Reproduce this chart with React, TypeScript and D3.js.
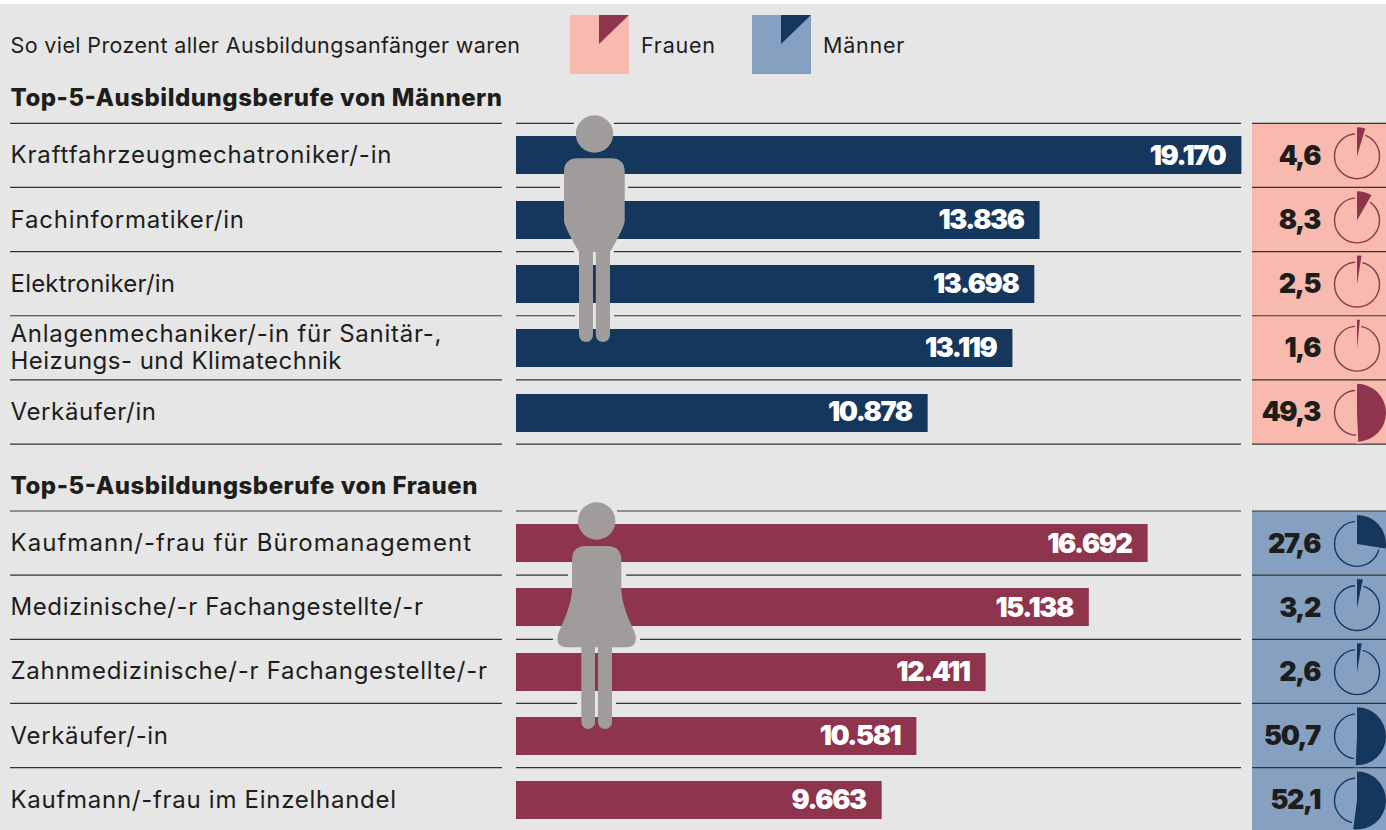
import React from "react";
import * as d3 from "d3";

const menJobs = ["Kraftfahrzeugmechatroniker/-in", "Fachinformatiker/in", "Elektroniker/in", "Anlagenmechaniker/-in für Sanitär-,|Heizungs- und Klimatechnik", "Verkäufer/in"];
const menCounts = [19170, 13836, 13698, 13119, 10878];
const menWomenShare = [4.6, 8.3, 2.5, 1.6, 49.3];
const womenJobs = ["Kaufmann/-frau für Büromanagement", "Medizinische/-r Fachangestellte/-r", "Zahnmedizinische/-r Fachangestellte/-r", "Verkäufer/-in", "Kaufmann/-frau im Einzelhandel"];
const womenCounts = [16692, 15138, 12411, 10581, 9663];
const womenMenShare = [27.6, 3.2, 2.6, 50.7, 52.1];

const FONT = "Inter, 'Open Sans', sans-serif";
const NAVY = "#15375e", MAROON = "#8e344c", SALMON = "#f8baae", BLUE = "#86a0c1", BG = "#e6e6e6", GREY = "#9f9c9b", INK = "#1d1d1b";
const LABEL_X = 10.5;
const labelWidths: Record<string, number> = {
  "Kraftfahrzeugmechatroniker/-in": 381,
  "Fachinformatiker/in": 233.5,
  "Elektroniker/in": 164.5,
  "Anlagenmechaniker/-in für Sanitär-,": 431,
  "Heizungs- und Klimatechnik": 331,
  "Verkäufer/in": 145.5,
  "Kaufmann/-frau für Büromanagement": 460.5,
  "Medizinische/-r Fachangestellte/-r": 412.5,
  "Zahnmedizinische/-r Fachangestellte/-r": 476.5,
  "Verkäufer/-in": 157.5,
  "Kaufmann/-frau im Einzelhandel": 385.5,
};

const x = d3.scaleLinear().domain([0, 19170]).range([516, 1241.4]);
const fmt = (v: number) => d3.format(",")(v).replace(",", ".");
const fmtShare = (v: number) => v.toFixed(1).replace(".", ",");
const slice = d3.arc();

function rr(p: d3.Path, x0: number, y0: number, x1: number, y1: number, r: number) {
  p.moveTo(x0 + r, y0);
  p.lineTo(x1 - r, y0);
  p.arcTo(x1, y0, x1, y0 + r, r);
  p.lineTo(x1, y1 - r);
  p.arcTo(x1, y1, x1 - r, y1, r);
  p.lineTo(x0 + r, y1);
  p.arcTo(x0, y1, x0, y1 - r, r);
  p.lineTo(x0, y0 + r);
  p.arcTo(x0, y0, x0 + r, y0, r);
  p.closePath();
}

function manPath() {
  const p = d3.path();
  p.moveTo(578, 158.3);
  p.lineTo(611, 158.3);
  p.quadraticCurveTo(624.7, 158.3, 624.7, 172);
  p.lineTo(624.7, 221);
  p.quadraticCurveTo(624, 228, 610, 252);
  p.lineTo(579, 252);
  p.quadraticCurveTo(565, 228, 564, 221);
  p.lineTo(564, 172);
  p.quadraticCurveTo(564, 158.3, 578, 158.3);
  p.closePath();
  rr(p, 579, 240, 593, 342, 7);
  rr(p, 595.8, 240, 610, 342, 7);
  return p.toString();
}

function womanPath() {
  const p = d3.path();
  p.moveTo(586, 546);
  p.lineTo(607, 546);
  p.quadraticCurveTo(621.3, 546, 621.3, 560);
  p.lineTo(621.3, 588);
  p.bezierCurveTo(621.5, 605, 630, 622, 635, 633);
  p.quadraticCurveTo(639, 647.3, 625, 647.3);
  p.lineTo(568, 647.3);
  p.quadraticCurveTo(554, 647.3, 558.5, 633);
  p.bezierCurveTo(563, 622, 572, 605, 572, 588);
  p.lineTo(572, 560);
  p.quadraticCurveTo(572, 546, 586, 546);
  p.closePath();
  rr(p, 581.3, 635, 595, 729, 7);
  rr(p, 598, 635, 612, 729, 7);
  return p.toString();
}

function Label({ t, y }: { t: string; y: number }) {
  return (
    <text x={LABEL_X} y={y} fontSize={24} textLength={labelWidths[t]} lengthAdjust="spacing" fill={INK} fontFamily={FONT}>{t}</text>
  );
}

function Group({ top, jobs, counts, shares, barColor, panel, ink, gaps, panelBottom, barTop, barStep }: any) {
  const rowH = 64.15;
  const lineYs = d3.range(6).map((i) => top + i * rowH);
  const band = d3.scaleBand<number>().domain(d3.range(5)).range([top, top + 5 * rowH]);
  return (
    <g>
      <rect x={1252} y={top} width={134} height={panelBottom - top} fill={panel} />
      {lineYs.map((y, i) => {
        if (i === 5 && panelBottom > y + 2) {
          return null;
        }
        const g = gaps[i];
        return (
          <g key={i} stroke="#333" strokeWidth={1.2}>
            <line x1={10} x2={502} y1={y} y2={y} />
            {g ? (
              <>
                <line x1={516} x2={g[0]} y1={y} y2={y} />
                <line x1={g[1]} x2={1241} y1={y} y2={y} />
              </>
            ) : (
              <line x1={516} x2={1241} y1={y} y2={y} />
            )}
            <line x1={1252} x2={1386} y1={y} y2={y} />
          </g>
        );
      })}
      {counts.map((v: number, i: number) => {
        const cy = band(i)! + band.bandwidth() / 2;
        const lines = jobs[i].split("|");
        return (
          <g key={i}>
            <rect x={x(0)} y={Math.round(barTop + i * barStep)} width={x(v) - x(0)} height={38} fill={barColor} />
            {lines.length === 1 ? (
              <Label t={lines[0]} y={cy + 8} />
            ) : (
              lines.map((t: string, k: number) => <Label key={k} t={t} y={cy - 5.5 + k * 27} />)
            )}
            <text x={x(v) - 16} y={cy + 9.5} textAnchor="end" fontSize={27} fontWeight={900} letterSpacing={-1.4} fill="#fff" fontFamily={FONT}>{fmt(v)}</text>
            <text x={1320} y={cy + 9.5} textAnchor="end" fontSize={27} fontWeight={900} letterSpacing={-1.4} fill={INK} fontFamily={FONT}>{fmtShare(shares[i])}</text>
            <g transform={`translate(1357,${cy + 0.8})`}>
              <circle r={22.5} fill="none" stroke={ink} strokeWidth={1.4} />
              <path
                d={slice({ innerRadius: 0, outerRadius: 29, startAngle: 0, endAngle: (shares[i] / 100) * 2 * Math.PI } as any) as string}
                fill={ink}
                stroke={panel}
                strokeWidth={4}
                style={{ paintOrder: "stroke" }}
              />
            </g>
          </g>
        );
      })}
    </g>
  );
}

export default function App() {
  return (
    <svg width={1386} height={830} style={{ position: "absolute", left: 0, top: 0, display: "block" }}>
      <rect width={1386} height={830} fill="#fff" />
      <rect y={4} width={1386} height={826} fill={BG} />

      <text x={10.5} y={53} fontSize={21.5} textLength={509.5} lengthAdjust="spacing" fill={INK} fontFamily={FONT}>So viel Prozent aller Ausbildungsanfänger waren</text>
      <rect x={570} y={15} width={59} height={59} fill={SALMON} />
      <path d={d3.line()([[599, 15], [629, 15], [599, 44]])! + "Z"} fill={MAROON} />
      <text x={641} y={53} fontSize={21.5} letterSpacing={0.75} fill={INK} fontFamily={FONT}>Frauen</text>
      <rect x={752} y={15} width={59} height={59} fill={BLUE} />
      <path d={d3.line()([[781, 15], [811, 15], [781, 44]])! + "Z"} fill={NAVY} />
      <text x={823} y={53} fontSize={21.5} letterSpacing={0.75} fill={INK} fontFamily={FONT}>Männer</text>

      <text x={10.5} y={106} fontSize={24} fontWeight={800} textLength={491.5} lengthAdjust="spacing" fill={INK} fontFamily={FONT}>Top-5-Ausbildungsberufe von Männern</text>
      <text x={10.5} y={494} fontSize={24} fontWeight={800} textLength={467} lengthAdjust="spacing" fill={INK} fontFamily={FONT}>Top-5-Ausbildungsberufe von Frauen</text>

      <Group
        top={123.3}
        barTop={136.3}
        barStep={64.35}
        jobs={menJobs}
        counts={menCounts}
        shares={menWomenShare}
        barColor={NAVY}
        panel={SALMON}
        ink={MAROON}
        panelBottom={444}
        gaps={[[574, 614], [560, 628], [574, 614], [575, 614], null, null]}
      />
      <Group
        top={511}
        barTop={524}
        barStep={64.3}
        jobs={womenJobs}
        counts={womenCounts}
        shares={womenMenShare}
        barColor={MAROON}
        panel={BLUE}
        ink={NAVY}
        panelBottom={830}
        gaps={[[577, 617], [568, 626], [553, 640], [577, 616], null, null]}
      />

      <circle cx={594.5} cy={134} r={18.7} fill={GREY} />
      <path d={manPath()} fill={GREY} />
      <circle cx={596.7} cy={521} r={18.7} fill={GREY} />
      <path d={womanPath()} fill={GREY} />
    </svg>
  );
}
